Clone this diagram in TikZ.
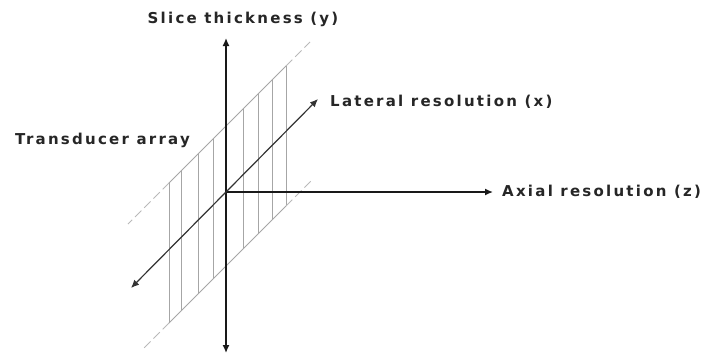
\documentclass[tikz,border=0pt]{standalone}
\usepackage{fontspec}
\setmainfont{DejaVu Sans}[LetterSpace=15]
\usetikzlibrary{arrows.meta}
\tikzset{
  axe/.style={draw=black!90, line width=1.4pt, -{Latex[length=8pt,width=7pt]}},
  bande/.style={draw=gray!70, line width=0.9pt},
  pointille/.style={draw=gray!55, line width=0.9pt, dash pattern=on 9pt off 4pt},
  etiquette/.style={font=\bfseries\fontsize{15}{17}\selectfont, text=black!85, inner sep=0pt}
}
\begin{document}
\begin{tikzpicture}[x=1pt,y=-1pt]
\useasboundingbox (0,0) rectangle (722,354);
	% bandes verticales
	\draw[bande] (169,183)--(169,323);
	\draw[bande] (181,171)--(181,311);
	\draw[bande] (198,154)--(198,294);
	\draw[bande] (213,139)--(213,279);
	\draw[bande] (243,109)--(243,249);
	\draw[bande] (258,94)--(258,234);
	\draw[bande] (272,80)--(272,220);
	\draw[bande] (286,66)--(286,206);
	% bords du transducteur
	\draw[bande] (169,183)--(286,66);
	\draw[bande] (169,323)--(286,206);
	\draw[pointille] (169,183)--(128,224);
	\draw[pointille] (286,66)--(310,42);
	\draw[pointille] (169,323)--(142,350);
	\draw[pointille] (286,206)--(313,179);
	% axes
	\coordinate (O) at (226,192);
	\coordinate (haut) at (226,38);
	\coordinate (bas) at (226,353);
	\coordinate (droite) at (493,192);
	\coordinate (avant) at (131,288);
	\coordinate (arriere) at (318,99);
	\draw[axe] (O)--(haut);
	\draw[axe] (O)--(bas);
	\draw[axe] (O)--(droite);
	\draw[axe, draw=black!80, line width=1.2pt] (O)--(arriere);
	\draw[axe, draw=black!80, line width=1.2pt] (O)--(avant);
	\node[etiquette] (epaisseur) at (243,19) {Slice thickness (y)};
	\node[etiquette, anchor=west] (laterale) at (330,102) {Lateral resolution (x)};
	\node[etiquette, anchor=west] (transducteur) at (15,140) {Transducer array};
	\node[etiquette, anchor=west] (axiale) at (502,192) {Axial resolution (z)};
\end{tikzpicture}
\end{document}
